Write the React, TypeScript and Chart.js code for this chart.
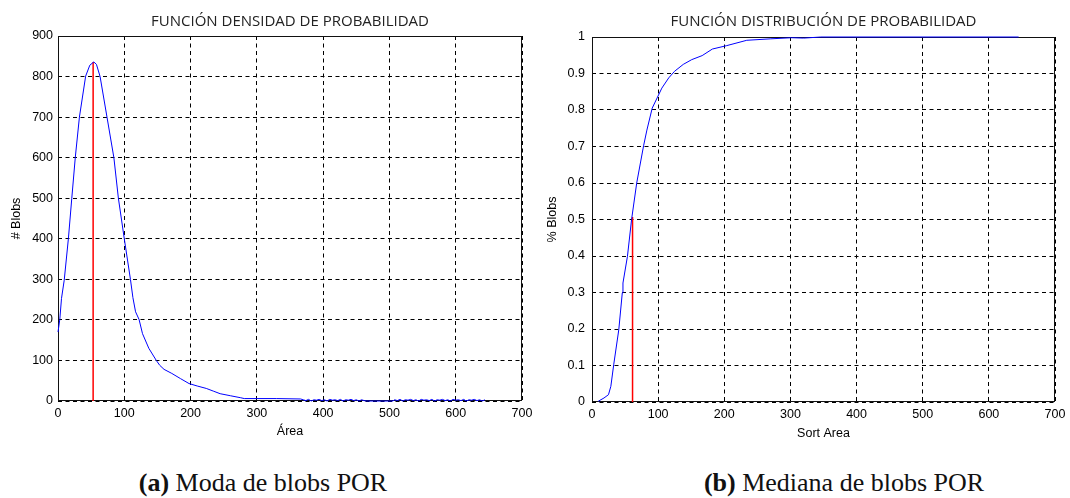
import React, { useEffect, useRef } from "react";
import { Chart, registerables } from "chart.js";

Chart.register(...registerables);

// ---------- DATA ----------
const densityTitle = "FUNCIÓN DENSIDAD DE PROBABILIDAD";
const distributionTitle = "FUNCIÓN DISTRIBUCIÓN DE PROBABILIDAD";
const densityXLabel = "Área";
const densityYLabel = "# Blobs";
const distributionXLabel = "Sort Area";
const distributionYLabel = "% Blobs";
const captionA = ["(a)", " Moda de blobs POR"];
const captionB = ["(b)", " Mediana de blobs POR"];

// Left chart: probability density (# blobs vs area)
const areaX = [
  0, 2.7, 5.3, 9.4, 15.7, 20.8, 26.1, 32.3, 41.7, 48, 54, 58, 63.5, 73.9, 84.3, 91.1, 100,
  109.3, 113, 117, 122.3, 127.5, 137, 148.3, 153.5, 160, 171.7, 185, 197.7, 210, 223.7, 235,
  244.6, 260, 275.7, 281, 300, 330, 366,
  370, 374, 378, 382, 386, 390, 394, 398, 402, 406, 410, 414, 418, 422, 426, 430, 434, 438,
  442, 446, 450, 454, 458, 462, 466, 505,
  508, 512, 516, 520, 524, 528, 532, 536, 540, 544, 548, 552, 556, 560, 564, 568, 572, 576,
  580, 584, 588, 592, 596, 600, 604, 608, 612, 616, 620, 624, 628, 632, 636, 640, 644,
];
const blobCount = [
  170, 201, 253, 298, 401, 500, 601, 700, 801, 828, 836, 830, 800, 700, 600, 500, 400,
  300, 255, 220, 201, 166, 130, 100, 88, 78, 68, 55, 43, 37, 31, 24,
  18, 13, 8, 6, 6, 6, 5,
  3, 1, 4, 0, 3, 2, 4, 1, 3, 0, 4, 2, 3, 1, 4, 0, 3, 2,
  4, 1, 3, 0, 3, 1, 0, 0,
  3, 1, 4, 0, 3, 2, 4, 1, 3, 0, 4, 2, 3, 1, 4, 0, 3, 2,
  4, 1, 3, 0, 4, 2, 3, 1, 4, 0, 3, 2, 4, 1, 3, 0, 3,
];
const modeX = [53, 53];
const modeY = [0, 836];

// Right chart: cumulative distribution (% blobs vs sorted area)
const sortArea = [
  9.4, 18.1, 24.9, 28.5, 32.8, 40.5, 45.8, 46.8, 53.6, 59.8, 67.6, 78, 83, 91, 105.6, 116,
  124.8, 138, 150.8, 166.5, 182, 202.9, 234, 270.4, 301.7, 320, 346, 645,
];
const blobPct = [
  0.002, 0.011, 0.02, 0.043, 0.102, 0.198, 0.299, 0.326, 0.399, 0.4995, 0.6, 0.702, 0.745,
  0.805, 0.86, 0.888, 0.906, 0.925, 0.938, 0.949, 0.967, 0.976, 0.991, 0.995, 0.998, 0.997,
  1.0, 1.0,
];
const medianX = [61.3, 61.3];
const medianY = [0, 0.507];

const xTickMin = 0;
const xTickMax = 700;
const xTickStep = 100;
const densityYMax = 900;
const densityYStep = 100;
const distributionYMax = 1;
const distributionYStep = 0.1;

// ---------- STYLE ----------
const TICK_FONT = { family: "'Liberation Sans', Arial, sans-serif", size: 12.5 };
const TITLE_FONT = { family: "'Open Sans', sans-serif", size: 15, lineHeight: 1.2 };
const CANVAS_W = 535;
const CANVAS_H = 450;

const framePlugin = {
  id: "frame",
  beforeDatasetsDraw(chart: any) {
    const { ctx, chartArea } = chart;
    ctx.save();
    ctx.strokeStyle = "#111";
    ctx.lineWidth = 1;
    ctx.setLineDash([]);
    const l = Math.round(chartArea.left) + 0.5;
    const t = Math.round(chartArea.top) + 0.5;
    const r = Math.round(chartArea.right) - 0.5;
    const b = Math.round(chartArea.bottom) - 0.5;
    ctx.strokeRect(l, t, r - l, b - t);
    ctx.restore();
  },
};

type Params = {
  title: string;
  xLabel: string;
  yLabel: string;
  curveX: number[];
  curveY: number[];
  markX: number[];
  markY: number[];
  yMax: number;
  yStep: number;
  chartLeft: number;
  chartRight: number;
  chartTop: number;
  chartBottom: number;
  titleY: number;
  xTitleY: number;
  yTitleX: number;
  yTickPad: number;
  yFormat: (v: number) => string;
};

function makeConfig(p: Params): any {
  const titleLH = TITLE_FONT.size * TITLE_FONT.lineHeight;
  const titlePadTop = p.titleY - titleLH / 2;
  const titlePadBottom = p.chartTop - titlePadTop - titleLH;
  const axisLH = TICK_FONT.size * 1.2;
  const gridOpts = { color: "#000", lineWidth: 1, drawTicks: false };
  const borderOpts = { display: false, dash: [4, 3.5] };
  return {
    type: "scatter",
    data: {
      datasets: [
        {
          data: p.curveX.map((x, i) => ({ x, y: p.curveY[i] })),
          showLine: true,
          borderColor: "#0000ff",
          borderWidth: 1,
          pointRadius: 0,
          tension: 0,
          clip: 4,
        },
        {
          data: p.markX.map((x, i) => ({ x, y: p.markY[i] })),
          showLine: true,
          borderColor: "#ff0000",
          borderWidth: 1.5,
          pointRadius: 0,
          clip: 4,
        },
      ],
    },
    options: {
      animation: false,
      responsive: false,
      maintainAspectRatio: false,
      devicePixelRatio: 1,
      layout: {
        padding: { left: 0, right: CANVAS_W - p.chartRight, top: 0, bottom: 0 },
      },
      plugins: {
        legend: { display: false },
        tooltip: { enabled: false },
        title: {
          display: true,
          text: p.title,
          fullSize: false,
          color: "#222",
          font: { ...TITLE_FONT, weight: "normal" },
          padding: { top: titlePadTop, bottom: titlePadBottom },
        },
      },
      scales: {
        x: {
          type: "linear",
          min: xTickMin,
          max: xTickMax,
          border: borderOpts,
          grid: gridOpts,
          ticks: {
            stepSize: xTickStep,
            padding: 5,
            color: "#000",
            font: TICK_FONT,
            maxRotation: 0,
          },
          title: {
            display: true,
            text: p.xLabel,
            color: "#000",
            font: TICK_FONT,
            padding: { top: 0, bottom: CANVAS_H - p.xTitleY - axisLH / 2 },
          },
          afterFit: (s: any) => {
            s.height = CANVAS_H - p.chartBottom;
            s.paddingLeft = 0;
            s.paddingRight = 0;
          },
        },
        y: {
          type: "linear",
          min: 0,
          max: p.yMax,
          border: borderOpts,
          grid: gridOpts,
          ticks: {
            stepSize: p.yStep,
            padding: p.yTickPad,
            color: "#000",
            font: TICK_FONT,
            callback: (v: number) => p.yFormat(v),
          },
          title: {
            display: true,
            text: p.yLabel,
            color: "#000",
            font: TICK_FONT,
            padding: { top: p.yTitleX - axisLH / 2, bottom: 0 },
          },
          afterFit: (s: any) => {
            s.width = p.chartLeft;
            s.paddingTop = 0;
            s.paddingBottom = 0;
          },
        },
      },
    },
    plugins: [framePlugin],
  };
}

function PlotCanvas({ params, left }: { params: Params; left: number }) {
  const ref = useRef<HTMLCanvasElement | null>(null);
  useEffect(() => {
    if (!ref.current) return;
    const chart = new Chart(ref.current, makeConfig(params));
    return () => chart.destroy();
  }, []);
  return (
    <canvas
      ref={ref}
      width={CANVAS_W}
      height={CANVAS_H}
      style={{ position: "absolute", left, top: 0, width: CANVAS_W, height: CANVAS_H }}
    />
  );
}

export default function App() {
  const leftParams: Params = {
    title: densityTitle,
    xLabel: densityXLabel,
    yLabel: densityYLabel,
    curveX: areaX,
    curveY: blobCount,
    markX: modeX,
    markY: modeY,
    yMax: densityYMax,
    yStep: densityYStep,
    chartLeft: 58,
    chartRight: 522,
    chartTop: 36,
    chartBottom: 401,
    titleY: 21.7,
    xTitleY: 432,
    yTitleX: 16.5,
    yTickPad: 5,
    yFormat: (v) => String(Math.round(v)),
  };
  const rightParams: Params = {
    title: distributionTitle,
    xLabel: distributionXLabel,
    yLabel: distributionYLabel,
    curveX: sortArea,
    curveY: blobPct,
    markX: medianX,
    markY: medianY,
    yMax: distributionYMax,
    yStep: distributionYStep,
    chartLeft: 57,
    chartRight: 520,
    chartTop: 37,
    chartBottom: 402,
    titleY: 21.7,
    xTitleY: 433.5,
    yTitleX: 17.4,
    yTickPad: 7,
    yFormat: (v) => String(Math.round(v * 10) / 10),
  };
  const capStyle: React.CSSProperties = {
    position: "absolute",
    top: 470,
    width: 400,
    textAlign: "center",
    fontFamily: "'Liberation Serif', 'Times New Roman', serif",
    fontSize: 26,
    lineHeight: "26px",
    color: "#111",
    whiteSpace: "nowrap",
  };
  return (
    <div
      style={{
        position: "absolute",
        left: 0,
        top: 0,
        width: 1070,
        height: 498,
        background: "#fff",
        overflow: "hidden",
      }}
    >
      <PlotCanvas params={leftParams} left={0} />
      <PlotCanvas params={rightParams} left={535} />
      <div style={{ ...capStyle, left: 263 - 200 }}>
        <b>{captionA[0]}</b>
        {captionA[1]}
      </div>
      <div style={{ ...capStyle, left: 844 - 200 }}>
        <b>{captionB[0]}</b>
        {captionB[1]}
      </div>
    </div>
  );
}
